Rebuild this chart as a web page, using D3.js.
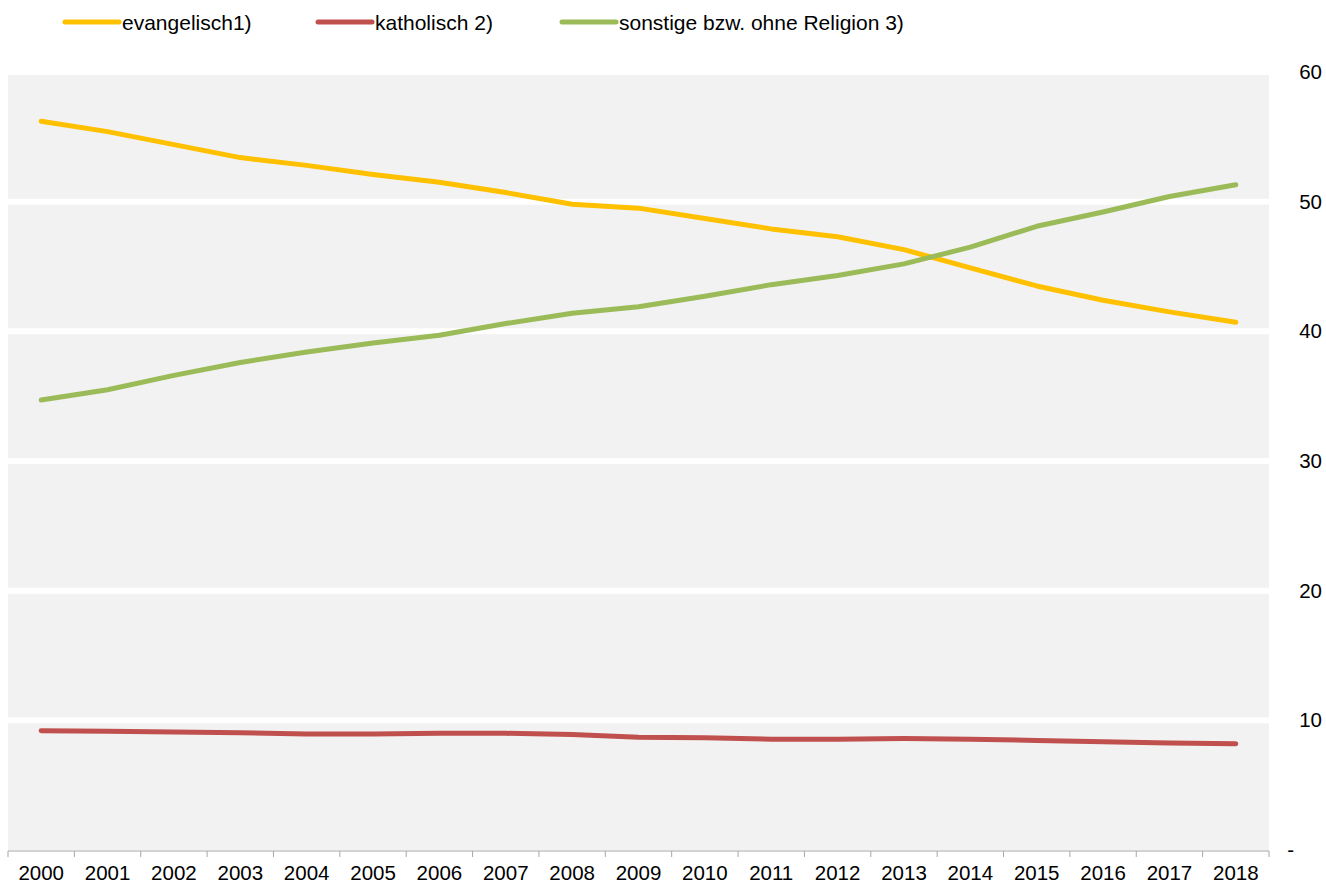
<!DOCTYPE html>
<html>
<head>
    <meta charset="utf-8">
    <style>
        body { margin: 0; background: #fff; font-family: "Liberation Sans", Arial, sans-serif; }
        .tick text { font-size: 20.5px; fill: #000; font-family: "Liberation Sans", Arial, sans-serif; }
        .legend text { font-size: 21px; fill: #000; }
    </style>
</head>
<body>
<svg id="graph"></svg>
<script src="https://cdn.jsdelivr.net/npm/d3@7"></script>
<script>
    // Data
    var years = ['2000', '2001', '2002', '2003', '2004', '2005', '2006', '2007', '2008', '2009',
        '2010', '2011', '2012', '2013', '2014', '2015', '2016', '2017', '2018'];
    var evangelisch = [56.2, 55.4, 54.4, 53.4, 52.8, 52.1, 51.5, 50.7, 49.8, 49.5,
        48.7, 47.9, 47.3, 46.3, 44.9, 43.5, 42.4, 41.5, 40.7];
    var katholisch = [9.2, 9.15, 9.1, 9.05, 8.95, 8.95, 9.0, 9.0, 8.9, 8.7,
        8.65, 8.55, 8.55, 8.6, 8.55, 8.45, 8.35, 8.25, 8.2];
    var sonstige = [34.7, 35.5, 36.6, 37.6, 38.4, 39.1, 39.7, 40.6, 41.4, 41.9,
        42.7, 43.6, 44.3, 45.2, 46.5, 48.1, 49.2, 50.4, 51.3];
    var yTicks = [0, 10, 20, 30, 40, 50, 60];
    var seriesNames = ['evangelisch1)', 'katholisch 2)', 'sonstige bzw. ohne Religion 3)'];
    var seriesColors = ['#ffc000', '#c0504d', '#9bbb59'];
    var seriesValues = [evangelisch, katholisch, sonstige];

    var width = 1326, height = 885;
    var plot = { left: 8, right: 1269, top: 72, bottom: 850 };

    var svg = d3.select('#graph')
        .attr('width', width)
        .attr('height', height);

    var x = d3.scaleBand()
        .domain(years)
        .range([plot.left, plot.right]);

    var y = d3.scaleLinear()
        .domain([0, 60])
        .range([plot.bottom, plot.top]);

    // background
    svg.append('rect')
        .attr('x', plot.left)
        .attr('y', plot.top)
        .attr('width', plot.right - plot.left)
        .attr('height', plot.bottom - plot.top)
        .attr('fill', '#f2f2f2');

    // white gridlines
    svg.append('g')
        .selectAll('line')
        .data(yTicks.filter(d => d > 0))
        .enter().append('line')
        .attr('x1', plot.left)
        .attr('x2', plot.right)
        .attr('y1', d => y(d))
        .attr('y2', d => y(d))
        .attr('stroke', '#fff')
        .attr('stroke-width', 6);

    // y axis on the right
    var yAxis = d3.axisRight(y)
        .tickValues(yTicks)
        .tickSize(0)
        .tickFormat(d => d === 0 ? '-' : d);

    svg.append('g')
        .attr('transform', 'translate(1322,0)')
        .call(yAxis)
        .call(g => g.select('.domain').remove())
        .selectAll('text')
        .attr('x', 0)
        .attr('text-anchor', 'end')
        .attr('dx', d => d === 0 ? -28 : 0);

    // x axis
    var xAxis = d3.axisBottom(x)
        .tickSize(0)
        .tickPadding(14);

    var gx = svg.append('g')
        .attr('transform', 'translate(0,' + (plot.bottom + 1) + ')')
        .call(xAxis);
    gx.select('.domain').attr('stroke', '#a6a6a6').attr('d', 'M' + plot.left + ',0H' + plot.right);

    // ticks between categories
    var boundaries = years.map(d => x(d)).concat([plot.right]);
    gx.selectAll('.sep')
        .data(boundaries)
        .enter().append('line')
        .attr('class', 'sep')
        .attr('x1', d => d)
        .attr('x2', d => d)
        .attr('y1', 0)
        .attr('y2', 6)
        .attr('stroke', '#a6a6a6');

    // lines
    var line = d3.line()
        .x((d, i) => x(years[i]) + x.bandwidth() / 2)
        .y(d => y(d));

    seriesValues.forEach(function (vals, i) {
        svg.append('path')
            .datum(vals)
            .attr('fill', 'none')
            .attr('stroke', seriesColors[i])
            .attr('stroke-width', 5)
            .attr('stroke-linecap', 'round')
            .attr('stroke-linejoin', 'round')
            .attr('d', line);
    });

    // legend
    var legendX = [65, 318, 562];
    var legend = svg.append('g').attr('class', 'legend');
    seriesNames.forEach(function (name, i) {
        legend.append('line')
            .attr('x1', legendX[i])
            .attr('x2', legendX[i] + 54)
            .attr('y1', 22)
            .attr('y2', 22)
            .attr('stroke', seriesColors[i])
            .attr('stroke-width', 5)
            .attr('stroke-linecap', 'round');
        legend.append('text')
            .attr('x', legendX[i] + 57)
            .attr('y', 29.5)
            .text(name);
    });
</script>
</body>
</html>
